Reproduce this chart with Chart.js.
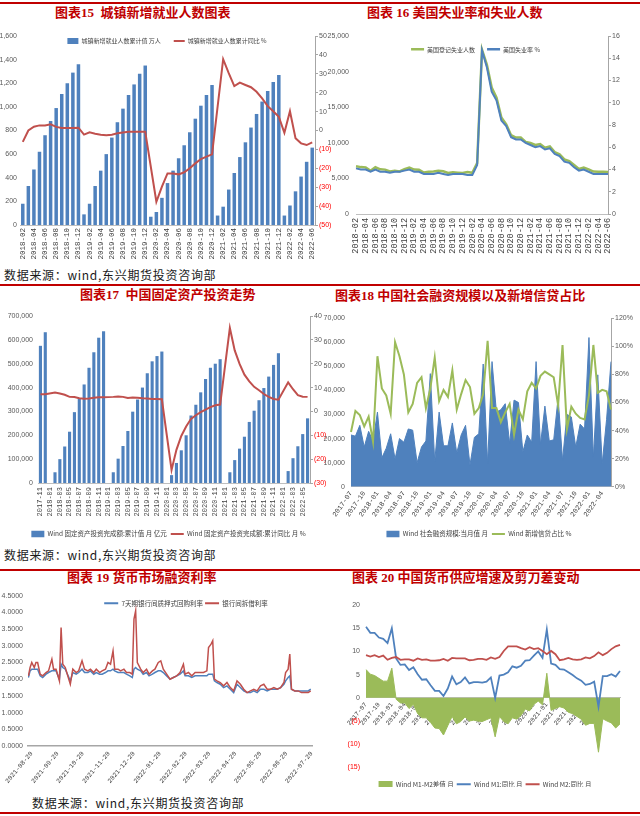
<!DOCTYPE html>
<html>
<head>
<meta charset="utf-8">
<title>宏观图表</title>
<script src="https://cdn.jsdelivr.net/npm/chart.js@4.4.1/dist/chart.umd.min.js"></script>
<style>
  html, body { margin: 0; padding: 0; background: #fff; }
  body { position: relative; width: 640px; height: 816px; overflow: hidden; font-family: "Noto Sans CJK SC", sans-serif; }
  .rule { position: absolute; left: 0; width: 640px; height: 2px; background: #C00000; }
  .title { position: absolute; color: #C00000; font-weight: bold; font-size: 13px; line-height: 16px; white-space: nowrap; font-family: "Liberation Serif", "Noto Sans CJK SC", serif; }
  .src { position: absolute; font-size: 12px; line-height: 14px; letter-spacing: 0.7px; color: #1a1a1a; white-space: nowrap; }
  canvas { position: absolute; }
</style>
</head>
<body>
<div class="rule" style="top:2px"></div>
<div class="rule" style="top:284px"></div>
<div class="rule" style="top:569px"></div>
<div class="rule" style="top:812px"></div>

<div class="title" style="left:55px;top:5px">图表15&nbsp; 城镇新增就业人数图表</div>
<div class="title" style="left:367px;top:5px">图表 16 美国失业率和失业人数</div>
<div class="title" style="left:80px;top:287px">图表17&nbsp; 中国固定资产投资走势</div>
<div class="title" style="left:335px;top:288px">图表18 中国社会融资规模以及新增信贷占比</div>
<div class="title" style="left:67px;top:570px">图表 19 货币市场融资利率</div>
<div class="title" style="left:352px;top:570px">图表 20 中国货币供应增速及剪刀差变动</div>

<div class="src" style="left:4px;top:268px">数据来源：wind,东兴期货投资咨询部</div>
<div class="src" style="left:4px;top:548px">数据来源：wind,东兴期货投资咨询部</div>
<div class="src" style="left:32px;top:796px">数据来源：wind,东兴期货投资咨询部</div>

<canvas id="c1" width="334" height="265" style="left:0px;top:30px"></canvas>
<canvas id="c2" width="318" height="264" style="left:322px;top:30px"></canvas>
<canvas id="c3" width="334" height="240" style="left:0px;top:308px"></canvas>
<canvas id="c4" width="318" height="240" style="left:322px;top:308px"></canvas>
<canvas id="c5" width="320" height="220" style="left:0px;top:590px"></canvas>
<canvas id="c6" width="318" height="197" style="left:322px;top:590px"></canvas>

<script>
function monthRange(from, to) {
  const out = [];
  let y = +from.slice(0, 4), m = +from.slice(5, 7);
  const ty = +to.slice(0, 4), tm = +to.slice(5, 7);
  while (y < ty || (y === ty && m <= tm)) {
    out.push(y + '-' + String(m).padStart(2, '0'));
    m++;
    if (m > 12) { m = 1; y++; }
  }
  return out;
}

// 图表15 城镇新增就业
const jobMonths = monthRange('2018-02', '2022-06');
const jobCum = [180, 330, 470, 620, 760, 880, 990, 1110, 1200, 1290, 1360,
  90, 180, 330, 460, 600, 740, 870, 985, 1100, 1190, 1280, 1350,
  70, 110, 230, 355, 460, 565, 675, 785, 900, 1010, 1100, 1185,
  80, 155, 300, 440, 575, 700, 825, 940, 1045, 1135, 1210, 1270,
  80, 165, 285, 410, 535, 655];
const jobYoy = [-6, 0, 2, 2.7, 2.7, 3.3, 1.9, 1.3, 1.3, 1.3, 1.5,
  -2.2, -1, -1.7, -2.2, -2.5, -2.2, -1.5, -1, -0.7, -0.7, -0.7, -0.7,
  null, -37.7, -29.7, -22.7, -22.7, -23.2, -22.1, -20, -17.4, -15.1, -13.8, -12.6,
  null, 37.7, 30.3, 23.5, 25.3, 24.1, 22.9, 20.5, 17, 12.9, 10.2, 7.2,
  -1.2, 10.2, -4.1, -6.8, -7.7, -6.3];

// 图表16 美国失业
const usMonths = monthRange('2018-02', '2022-06');
const usJobless = [6706, 6585, 6550, 6065, 6564, 6280, 6234, 5964, 6075, 5975, 6294,
  6535, 6235, 6211, 5824, 5938, 5975, 6086, 5999, 5753, 5857, 5811, 5753,
  5892, 5787, 7140, 23078, 20985, 17750, 16338, 13550, 12580, 11061, 10735, 10736,
  10130, 9972, 9710, 9812, 9316, 9484, 8702, 8384, 7663, 7418, 6881, 6319,
  6510, 6270, 5952, 5941, 5950, 5912];
const usRate = [4.1, 4.0, 4.0, 3.8, 4.0, 3.8, 3.8, 3.7, 3.8, 3.8, 3.9,
  4.0, 3.8, 3.8, 3.6, 3.6, 3.6, 3.7, 3.6, 3.5, 3.6, 3.6, 3.6,
  3.5, 3.5, 4.4, 14.7, 13.2, 11.0, 10.2, 8.4, 7.9, 6.9, 6.7, 6.7,
  6.4, 6.2, 6.0, 6.1, 5.8, 5.9, 5.4, 5.2, 4.7, 4.6, 4.2, 3.9,
  4.0, 3.8, 3.6, 3.6, 3.6, 3.6];

// 图表17 固定资产投资
const faiMonths = monthRange('2017-11', '2022-06');
const faiCum = [575000, 632000,
  null, 45000, 100000, 153000, 215000, 297000, 355000, 413000, 483000, 548000, 609000, 636000,
  null, 45000, 102000, 155000, 218000, 299000, 350000, 400000, 460000, 510000, 532000, 551000,
  null, 33000, 84000, 137000, 200000, 283000, 328000, 380000, 436000, 483000, 500000, 519000,
  null, 45000, 96000, 144000, 194000, 256000, 303000, 347000, 398000, 446000, 495000, 544000,
  null, 50000, 104000, 154000, 205000, 271000];
const faiYoy = [7.2, 7.2,
  null, 7.9, 7.5, 7.0, 6.1, 6.0, 5.5, 5.3, 5.4, 5.7, 5.9, 5.9,
  null, 6.1, 6.3, 6.1, 5.6, 5.8, 5.7, 5.5, 5.4, 5.2, 5.2, 5.1,
  null, -24.5, -16.1, -10.3, -6.3, -3.1, -1.6, -0.3, 0.8, 1.8, 2.6, 2.9,
  null, 35.0, 25.6, 19.9, 15.4, 12.6, 10.3, 8.9, 7.3, 6.1, 5.2, 4.9,
  null, 12.2, 9.3, 6.8, 6.2, 6.1];

// 图表18 社融
const tsfMonths = monthRange('2017-07', '2022-06');
const tsfFlow = [21500, 21000, 25500, 16500, 23000, 19000,
  31000, 12000, 16000, 22000, 11500, 20000, 18500, 24000, 23500, 10000, 16500, 19000,
  47000, 10500, 31000, 17000, 17000, 26500, 14000, 21500, 25500, 9000, 20500, 22000,
  51000, 9500, 52000, 31000, 32000, 34500, 18000, 36000, 35000, 14500, 21500, 18500,
  52000, 17500, 33500, 19000, 19500, 37000, 11000, 30000, 29000, 16500, 26000, 24000,
  62000, 12000, 46500, 9500, 28000, 52000];
const loanShare = [39, 54, 51, 43, 50, 32,
  93, 70, 65, 52, 103, 93, 80, 53, 59, 74, 78, 56,
  70, 92, 61, 69, 64, 83, 55, 66, 76, 71, 52, 56,
  66, 104, 56, 56, 46, 53, 59, 37, 55, 48, 68, 74,
  70, 79, 82, 80, 78, 58, 101, 41, 57, 52, 49, 48,
  65, 101, 67, 69, 68, 55];

// 图表19 货币市场利率
const rateTicks = ['2021-08-20', '2021-09-20', '2021-10-20', '2021-11-20', '2021-12-20', '2022-01-20',
  '2022-02-20', '2022-03-20', '2022-04-20', '2022-05-20', '2022-06-20', '2022-07-20'];
const rateDates = ['2021-08-16', '2021-08-18', '2021-08-20', '2021-08-23', '2021-08-25', '2021-08-27', '2021-08-30',
  '2021-09-02', '2021-09-06', '2021-09-09', '2021-09-13', '2021-09-15', '2021-09-18', '2021-09-22', '2021-09-24', '2021-09-26', '2021-09-29',
  '2021-10-05', '2021-10-08', '2021-10-12', '2021-10-15', '2021-10-19', '2021-10-22', '2021-10-26', '2021-10-29',
  '2021-11-02', '2021-11-05', '2021-11-09', '2021-11-12', '2021-11-16', '2021-11-19', '2021-11-22', '2021-11-25', '2021-11-27',
  '2021-12-01', '2021-12-04', '2021-12-08', '2021-12-11', '2021-12-15', '2021-12-18', '2021-12-20', '2021-12-22', '2021-12-24', '2021-12-28', '2021-12-31',
  '2022-01-04', '2022-01-07', '2022-01-11', '2022-01-14', '2022-01-18', '2022-01-21', '2022-01-24', '2022-01-28',
  '2022-02-01', '2022-02-05', '2022-02-09', '2022-02-13', '2022-02-17', '2022-02-19', '2022-02-23', '2022-02-27',
  '2022-03-03', '2022-03-09', '2022-03-13', '2022-03-17', '2022-03-19', '2022-03-22', '2022-03-24', '2022-03-26', '2022-03-29',
  '2022-04-02', '2022-04-06', '2022-04-10', '2022-04-14', '2022-04-18', '2022-04-22', '2022-04-26', '2022-04-30',
  '2022-05-04', '2022-05-08', '2022-05-12', '2022-05-16', '2022-05-20', '2022-05-24', '2022-05-28',
  '2022-06-01', '2022-06-05', '2022-06-09', '2022-06-13', '2022-06-17', '2022-06-19', '2022-06-22', '2022-06-24', '2022-06-26', '2022-06-30',
  '2022-07-04', '2022-07-08', '2022-07-12', '2022-07-16', '2022-07-19'];
const repo7d = [2.05, 2.25, 2.30, 2.30, 2.30, 2.30, 2.10,
  2.05, 2.15, 2.20, 2.25, 2.25, 2.25, 2.00, 2.45, 2.35, 2.30,
  1.95, 2.20, 2.15, 2.20, 2.30, 2.20, 2.20, 2.25,
  2.15, 2.20, 2.15, 2.15, 2.20, 2.25, 2.25, 2.30, 2.25,
  2.20, 2.20, 2.20, 2.15, 2.10, 2.05, 2.30, 2.35, 2.30, 2.25, 2.15,
  2.20, 2.10, 2.15, 2.20, 2.25, 2.25, 2.20, 2.10,
  2.00, 2.05, 2.10, 2.15, 2.25, 2.10, 2.10, 2.05,
  2.10, 2.10, 2.10, 2.10, 2.15, 2.15, 2.15, 1.95, 1.90,
  1.85, 1.75, 1.80, 1.70, 1.60, 1.85, 1.75, 1.65,
  1.60, 1.60, 1.65, 1.60, 1.70, 1.70, 1.65,
  1.70, 1.70, 1.70, 1.75, 1.85, 1.95, 2.05, 2.10, 1.70, 1.65,
  1.65, 1.65, 1.65, 1.65, 1.70];
const interbank = [2.10, 2.35, 2.50, 2.35, 2.50, 2.50, 2.15,
  2.10, 2.20, 2.25, 2.60, 2.30, 2.30, 1.95, 3.55, 2.45, 2.35,
  1.85, 2.30, 2.20, 2.25, 2.55, 2.30, 2.25, 2.30,
  2.20, 2.30, 2.20, 2.25, 2.30, 2.50, 2.45, 2.85, 2.30,
  2.30, 2.25, 2.30, 2.20, 2.20, 2.15, 3.80, 4.05, 2.50, 2.30, 2.20,
  2.30, 2.15, 2.25, 2.30, 2.50, 2.55, 2.30, 2.15,
  2.00, 2.05, 2.10, 2.20, 2.45, 2.15, 2.20, 2.10,
  2.20, 2.20, 2.20, 2.25, 2.95, 3.05, 3.15, 2.00, 1.95,
  1.90, 1.80, 1.90, 1.75, 1.65, 1.95, 1.85, 1.70,
  1.60, 1.65, 1.70, 1.65, 1.80, 1.85, 1.70,
  1.70, 1.75, 1.70, 1.75, 1.90, 2.20, 2.30, 2.75, 1.70, 1.65,
  1.65, 1.60, 1.60, 1.60, 1.65];

// 图表20 M1 M2
const moneyMonths = monthRange('2017-07', '2022-06');
const m1Yoy = [15.3, 14.0, 14.0, 13.0, 12.7, 11.8,
  15.0, 8.5, 7.1, 7.2, 6.0, 6.6, 5.1, 3.9, 4.0, 2.7, 1.5, 1.5,
  0.4, 2.0, 4.6, 2.9, 3.4, 4.4, 3.1, 3.4, 3.4, 3.3, 3.5, 4.4,
  0.0, 4.8, 5.0, 5.5, 6.8, 6.5, 6.9, 8.0, 8.1, 9.1, 10.0, 8.6,
  14.7, 7.4, 7.1, 6.2, 6.1, 5.5, 4.9, 4.2, 3.7, 2.8, 3.0, 3.5,
  -1.9, 4.7, 4.7, 5.1, 4.6, 5.8];
const m2Yoy = [9.2, 8.9, 9.2, 8.8, 9.1, 8.2,
  8.6, 8.8, 8.2, 8.3, 8.3, 8.0, 8.5, 8.2, 8.3, 8.0, 8.0, 8.1,
  8.4, 8.0, 8.6, 8.5, 8.5, 8.5, 8.1, 8.2, 8.4, 8.4, 8.2, 8.7,
  8.4, 8.8, 10.1, 11.1, 11.1, 11.1, 10.7, 10.4, 10.9, 10.5, 10.7, 10.1,
  9.4, 10.1, 9.4, 8.1, 8.3, 8.6, 8.3, 8.2, 8.3, 8.7, 8.5, 9.0,
  9.8, 9.2, 9.7, 10.5, 11.1, 11.4];
const m1m2Gap = [6.1, 5.1, 4.8, 4.2, 3.6, 3.6,
  6.4, -0.3, -1.1, -1.1, -2.3, -1.4, -3.4, -4.3, -4.3, -5.3, -6.5, -6.6,
  -8.0, -6.0, -4.0, -5.6, -5.1, -4.1, -5.0, -4.8, -5.0, -5.1, -4.7, -4.3,
  -8.4, -4.0, -5.1, -5.6, -4.3, -4.6, -3.8, -2.4, -2.8, -1.4, -0.7, -1.5,
  5.3, -2.7, -2.3, -1.9, -2.2, -3.1, -3.4, -4.0, -4.6, -5.9, -5.5, -5.5,
  -11.7, -4.5, -5.0, -5.4, -6.5, -5.6];

const BLUE = '#4F81BD', RED = '#C0504D', GREEN = '#9BBB59';
const GREY = '#595959', AXIS = '#BFBFBF', TICK = '#A6A6A6';
const MONO = "'Liberation Mono', monospace";
const SANS = "'Liberation Sans', Arial, sans-serif";
const CJK = "'Noto Sans CJK SC', sans-serif";

Chart.defaults.font.family = SANS;
Chart.defaults.animation = false;
Chart.defaults.responsive = false;
Chart.defaults.plugins.tooltip.enabled = false;
Chart.defaults.events = [];

// puts the legend row where the picture has it (centre x, centre y in canvas px)
Chart.register({
  id: 'legendAt',
  afterLayout(chart, args, o) {
    const lg = chart.legend;
    if (!lg || o.cx == null) return;
    const dx = o.cx - (lg.left + lg.right) / 2;
    const dy = o.cy - (lg.top + o.pad + o.fs / 2);
    lg.left += dx; lg.right += dx;
    lg.top += dy; lg.bottom += dy;
  }
});

function fixW(w) { return function (s) { s.width = w; s.paddingTop = 0; s.paddingBottom = 0; }; }
function fixH(h) { return function (s) { s.height = h; s.paddingLeft = 0; s.paddingRight = 0; }; }
function paren(v) { return v < 0 ? '(' + Math.abs(v) + ')' : String(v); }
function negRed(c) { return c.tick && c.tick.value < 0 ? '#FF0000' : GREY; }
function thousands(v) { return v.toLocaleString('en-US'); }

function legendOpts(fs, pad, w) {
  return {
    position: 'bottom',
    labels: {
      usePointStyle: true, pointStyleWidth: w, boxHeight: 7, padding: pad,
      color: '#404040', font: { family: CJK, size: fs },
      sort: (a, b) => a.datasetIndex - b.datasetIndex
    }
  };
}
function valueAxis(pos, min, max, step, w, fmt, pad, color) {
  const ax = {
    position: pos, min: min, max: max,
    ticks: { stepSize: step, callback: fmt, color: color || GREY, font: { family: SANS, size: 7 }, padding: pad },
    grid: { display: false, drawTicks: false },
    border: { display: false },
    afterFit: fixW(w)
  };
  if (pos === 'right') {
    ax.grid = { drawOnChartArea: false, drawTicks: true, tickLength: 3, color: TICK };
    ax.border = { display: true, color: TICK };
  }
  return ax;
}
function every(n) { return function (v, i) { return i % n === 0 ? this.getLabelForValue(v) : ''; }; }
function catAxis(h, n, rot, size, offset, pad) {
  return {
    offset: offset,
    ticks: { autoSkip: false, minRotation: rot, maxRotation: rot, callback: every(n), color: '#404040', font: { family: MONO, size: size }, padding: pad },
    grid: { display: false, drawTicks: false },
    border: { display: true, color: AXIS },
    afterFit: fixH(h)
  };
}

// 图表15
new Chart(document.getElementById('c1'), {
  type: 'bar',
  data: {
    labels: jobMonths,
    datasets: [
      { label: '城镇新增就业人数累计值 万人', data: jobCum, backgroundColor: BLUE, pointStyle: 'rect', barPercentage: 0.63, categoryPercentage: 1, yAxisID: 'y', order: 2 },
      { type: 'line', label: '城镇新增就业人数累计同比 %', data: jobYoy, borderColor: RED, backgroundColor: RED, borderWidth: 2, pointRadius: 0, pointBorderWidth: 2, pointStyle: 'line', spanGaps: true, tension: 0, yAxisID: 'y1', order: 1 }
    ]
  },
  options: {
    layout: { padding: { top: 6, left: 0, right: 0, bottom: 0 } },
    plugins: { legend: legendOpts(6, 13, 11), legendAt: { cx: 167, cy: 11, fs: 6, pad: 13 } },
    scales: {
      x: catAxis(41, 2, 90, 7.5, true, 3),
      y: valueAxis('left', 0, 1600, 200, 20, thousands, 3),
      y1: valueAxis('right', -50, 50, 10, 19, paren, 1, negRed)
    }
  }
});

// 图表16
new Chart(document.getElementById('c2'), {
  type: 'line',
  data: {
    labels: usMonths,
    datasets: [
      { label: '美国登记失业人数', data: usJobless, borderColor: GREEN, backgroundColor: GREEN, borderWidth: 2.5, pointRadius: 0, pointBorderWidth: 2.5, pointStyle: 'line', tension: 0, yAxisID: 'y', order: 2 },
      { label: '美国失业率 %', data: usRate, borderColor: BLUE, backgroundColor: BLUE, borderWidth: 2, pointRadius: 0, pointBorderWidth: 2.5, pointStyle: 'line', tension: 0, yAxisID: 'y1', order: 1 }
    ]
  },
  options: {
    layout: { padding: { top: 6, left: 0, right: 0, bottom: 0 } },
    plugins: { legend: legendOpts(6, 12, 13), legendAt: { cx: 153.5, cy: 19.3, fs: 6, pad: 12 } },
    scales: {
      x: catAxis(52, 2, 90, 8.5, false, 4),
      y: valueAxis('left', 0, 25000, 5000, 34, thousands, 7),
      y1: valueAxis('right', 0, 16, 2, 32, v => String(v), 1)
    }
  }
});

// 图表17
new Chart(document.getElementById('c3'), {
  type: 'bar',
  data: {
    labels: faiMonths,
    datasets: [
      { label: 'Wind 固定资产投资完成额:累计值 月 亿元', data: faiCum, backgroundColor: BLUE, pointStyle: 'rect', barPercentage: 0.64, categoryPercentage: 1, yAxisID: 'y', order: 2 },
      { type: 'line', label: 'Wind 固定资产投资完成额:累计同比 月 %', data: faiYoy, borderColor: RED, backgroundColor: RED, borderWidth: 2, pointRadius: 0, pointBorderWidth: 2, pointStyle: 'line', spanGaps: true, tension: 0, yAxisID: 'y1', order: 1 }
    ]
  },
  options: {
    layout: { padding: { top: 8, left: 0, right: 0, bottom: 0 } },
    plugins: { legend: legendOpts(6.5, 4, 13), legendAt: { cx: 168.5, cy: 226, fs: 6.5, pad: 4 } },
    scales: {
      x: catAxis(44.5, 2, 90, 7, true, 4),
      y: valueAxis('left', 0, 700000, 100000, 38, thousands, 5),
      y1: valueAxis('right', -30, 40, 10, 24, paren, 1, negRed)
    }
  }
});

// 图表18
new Chart(document.getElementById('c4'), {
  type: 'line',
  data: {
    labels: tsfMonths,
    datasets: [
      { label: 'Wind 社会融资规模:当月值 月', data: tsfFlow, borderColor: BLUE, backgroundColor: BLUE, borderWidth: 1, fill: 'origin', pointRadius: 0, pointBorderWidth: 0, pointStyle: 'rect', tension: 0, yAxisID: 'y', order: 2 },
      { label: 'Wind 新增信贷占比 %', data: loanShare, borderColor: GREEN, backgroundColor: GREEN, borderWidth: 2, pointRadius: 0, pointBorderWidth: 2, pointStyle: 'line', tension: 0, yAxisID: 'y1', order: 1 }
    ]
  },
  options: {
    layout: { padding: { top: 10.3, left: 0, right: 0, bottom: 0 } },
    plugins: { legend: legendOpts(6.5, 4, 13), legendAt: { cx: 157, cy: 226, fs: 6.5, pad: 4 } },
    scales: {
      x: catAxis(40.8, 3, 55, 7, false, 3),
      y: valueAxis('left', 0, 70000, 10000, 29, thousands, 6),
      y1: valueAxis('right', 0, 120, 20, 29, v => v + '%', 1)
    }
  }
});

// 图表19
const rateBase = Date.parse('2021-08-20');
function dayOf(s) { return (Date.parse(s) - rateBase) / 86400000; }
new Chart(document.getElementById('c5'), {
  type: 'line',
  data: {
    datasets: [
      { label: '7天期银行间质押式回购利率', data: rateDates.map((d, i) => ({ x: dayOf(d), y: repo7d[i] })), borderColor: BLUE, backgroundColor: BLUE, borderWidth: 1.5, pointRadius: 0, pointBorderWidth: 2, pointStyle: 'line', tension: 0, order: 2 },
      { label: '银行间拆借利率', data: rateDates.map((d, i) => ({ x: dayOf(d), y: interbank[i] })), borderColor: RED, backgroundColor: RED, borderWidth: 1.5, pointRadius: 0, pointBorderWidth: 2, pointStyle: 'line', tension: 0, order: 1 }
    ]
  },
  options: {
    layout: { padding: { top: 5.7, left: 0, right: 8, bottom: 0 } },
    plugins: { legend: legendOpts(6.5, 2, 14), legendAt: { cx: 186, cy: 13.3, fs: 6.5, pad: 2 } },
    scales: {
      x: {
        type: 'linear', min: -4.5, max: 334.5,
        afterBuildTicks: s => { s.ticks = rateTicks.map(d => ({ value: dayOf(d) })); },
        ticks: { autoSkip: false, minRotation: 50, maxRotation: 50, callback: (v, i) => rateTicks[i], color: '#404040', font: { family: MONO, size: 6.5 }, padding: 4 },
        grid: { display: false, drawTicks: false },
        border: { display: true, color: TICK, width: 1.5 },
        afterFit: fixH(45.5)
      },
      y: valueAxis('left', 0, 4.5, 0.5, 28, v => v.toFixed(4), 5)
    }
  }
});

// 图表20
const c6x = catAxis(0, 3, 50, 6.5, false, 3);
c6x.position = { y: 0 };
new Chart(document.getElementById('c6'), {
  type: 'line',
  data: {
    labels: moneyMonths,
    datasets: [
      { label: 'Wind M1-M2差值 月', data: m1m2Gap, borderColor: GREEN, backgroundColor: GREEN, borderWidth: 1, fill: 'origin', pointRadius: 0, pointBorderWidth: 0, pointStyle: 'rect', tension: 0, order: 3 },
      { label: 'Wind M1:同比 月', data: m1Yoy, borderColor: BLUE, backgroundColor: BLUE, borderWidth: 1.8, pointRadius: 0, pointBorderWidth: 2, pointStyle: 'line', tension: 0, order: 2 },
      { label: 'Wind M2:同比 月', data: m2Yoy, borderColor: RED, backgroundColor: RED, borderWidth: 1.8, pointRadius: 0, pointBorderWidth: 2, pointStyle: 'line', tension: 0, order: 1 }
    ]
  },
  options: {
    layout: { padding: { top: 15, left: 0, right: 20, bottom: 0 } },
    plugins: { legend: legendOpts(6.5, 3, 14), legendAt: { cx: 163, cy: 194.3, fs: 6.5, pad: 3 } },
    scales: {
      x: c6x,
      y: valueAxis('left', -15, 20, 5, 44, paren, 6, negRed)
    }
  }
});
</script>
</body>
</html>
